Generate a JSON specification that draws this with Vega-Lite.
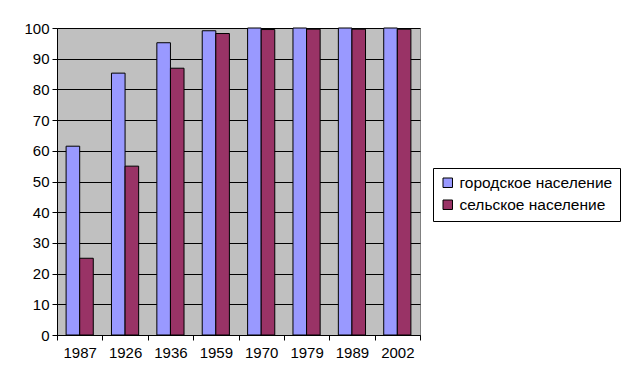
{
  "$schema": "https://vega.github.io/schema/vega-lite/v6.json",
  "autosize": "none",
  "width": 363,
  "height": 307,
  "padding": {"left": 57, "top": 28, "right": 204, "bottom": 49},
  "background": "white",
  "data": {
    "values": [
      {"year": "1987", "type": "городское население", "value": 61.5},
      {"year": "1987", "type": "сельское население", "value": 25},
      {"year": "1926", "type": "городское население", "value": 85.3},
      {"year": "1926", "type": "сельское население", "value": 55},
      {"year": "1936", "type": "городское население", "value": 95.2},
      {"year": "1936", "type": "сельское население", "value": 86.9},
      {"year": "1959", "type": "городское население", "value": 99.1},
      {"year": "1959", "type": "сельское население", "value": 98.2},
      {"year": "1970", "type": "городское население", "value": 100},
      {"year": "1970", "type": "сельское население", "value": 99.5},
      {"year": "1979", "type": "городское население", "value": 100},
      {"year": "1979", "type": "сельское население", "value": 99.6},
      {"year": "1989", "type": "городское население", "value": 100},
      {"year": "1989", "type": "сельское население", "value": 99.6},
      {"year": "2002", "type": "городское население", "value": 100},
      {"year": "2002", "type": "сельское население", "value": 99.6}
    ]
  },
  "mark": {"type": "bar", "stroke": "black", "strokeWidth": 1},
  "encoding": {
    "x": {
      "field": "year",
      "type": "nominal",
      "sort": null,
      "scale": {"paddingInner": 0, "paddingOuter": 0},
      "axis": {
        "title": null,
        "labelAngle": 0,
        "tickBand": "extent",
        "tickSize": 5,
        "tickColor": "black",
        "domainColor": "black",
        "labelFont": "Liberation Sans",
        "labelFontSize": 15,
        "labelColor": "black",
        "labelPadding": 5,
        "grid": false
      }
    },
    "xOffset": {
      "field": "type",
      "type": "nominal",
      "scale": {"paddingInner": 0, "paddingOuter": 0.67}
    },
    "y": {
      "field": "value",
      "type": "quantitative",
      "scale": {"domain": [0, 100], "nice": false},
      "axis": {
        "title": null,
        "values": [0, 10, 20, 30, 40, 50, 60, 70, 80, 90, 100],
        "grid": true,
        "gridColor": "black",
        "gridWidth": 1,
        "tickSize": 5,
        "tickColor": "black",
        "domainColor": "black",
        "labelFont": "Liberation Sans",
        "labelFontSize": 15,
        "labelColor": "black",
        "labelPadding": 3
      }
    },
    "color": {
      "field": "type",
      "type": "nominal",
      "scale": {
        "domain": ["городское население", "сельское население"],
        "range": ["#9999FF", "#993366"]
      },
      "legend": {
        "title": null,
        "orient": "none",
        "legendX": 376,
        "legendY": 140,
        "symbolType": "square",
        "symbolSize": 90,
        "symbolStrokeColor": "black",
        "symbolStrokeWidth": 1,
        "labelFont": "Liberation Sans",
        "labelFontSize": 15.5,
        "labelColor": "black",
        "rowPadding": 5,
        "fillColor": "white",
        "strokeColor": "black",
        "padding": 7
      }
    }
  },
  "config": {
    "view": {"fill": "#C0C0C0", "stroke": "#808080"},
    "axis": {"gridOpacity": 1}
  }
}
